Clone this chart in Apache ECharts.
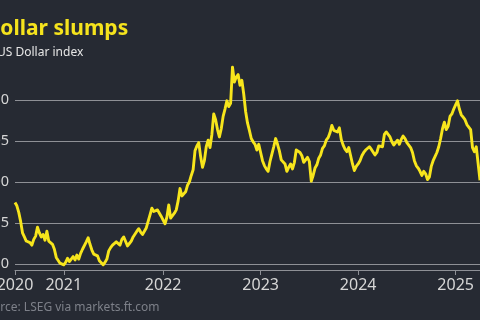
<!DOCTYPE html>
<html>
<head>
<meta charset="utf-8">
<script src="https://cdn.jsdelivr.net/npm/echarts@6/dist/echarts.min.js"></script>
<style>
html,body{margin:0;padding:0;background:#262a33;}
#c{width:480px;height:320px;}
</style>
</head>
<body>
<div id="c"></div>
<script>
// Weekly US Dollar index readings (Fridays), starting 2020-07-03
const startDate = '2020-07-03';
const values2020 = [97.5, 97.1, 96.3, 95.2, 93.8, 93.3, 92.8, 93.0, 92.6, 92.3, 93.0, 93.4, 94.5, 93.8, 93.3, 93.6, 92.9, 94.0, 92.8, 93.0, 92.4, 91.8, 90.8, 90.9, 90.1, 89.9];
const values2021 = [89.9, 90.2, 90.7, 90.3, 90.5, 90.9, 90.5, 91.1, 90.6, 91.3, 91.8, 91.9, 92.7, 93.2, 92.4, 91.7, 91.2, 91.4, 91.0, 90.4, 90.2, 89.9, 90.2, 90.6, 91.6, 92.0, 92.3, 92.2, 92.7, 92.9, 92.3, 93.0, 93.3, 93.1, 92.2, 92.5, 92.8, 93.3, 93.4, 94.0, 94.3, 93.9, 93.6, 94.0, 94.4, 95.2, 96.0, 96.8, 96.4, 96.2, 96.6, 96.2, 95.8];
const values2022 = [95.6, 94.9, 95.7, 97.2, 95.6, 95.9, 96.2, 96.6, 97.7, 99.2, 98.3, 98.2, 98.8, 99.6, 100.0, 100.8, 101.5, 103.8, 104.4, 104.8, 103.1, 101.8, 102.6, 104.3, 105.1, 104.2, 105.8, 108.3, 107.6, 106.4, 105.5, 106.5, 108.0, 108.9, 109.9, 109.2, 109.6, 114.0, 112.2, 112.8, 113.1, 111.8, 112.4, 110.7, 108.6, 107.2, 106.3, 105.3, 104.9, 104.6, 103.9, 104.6];
const values2023 = [103.6, 102.6, 102.0, 101.6, 101.3, 102.5, 103.4, 104.3, 105.3, 104.6, 103.8, 102.7, 102.9, 102.2, 101.3, 101.8, 102.2, 101.6, 102.4, 103.9, 104.1, 103.6, 103.2, 102.4, 102.6, 103.0, 102.5, 100.1, 100.8, 101.7, 102.1, 102.9, 103.3, 104.1, 104.4, 105.1, 105.4, 106.0, 106.9, 106.3, 106.4, 106.1, 106.6, 105.2, 104.5, 104.0, 103.7, 104.2, 103.2, 102.2, 101.4, 101.9];
const values2024 = [102.2, 102.6, 103.2, 103.6, 103.9, 104.1, 104.3, 104.0, 103.8, 103.3, 103.6, 104.4, 104.6, 104.3, 105.8, 106.1, 105.9, 105.5, 104.9, 104.5, 104.8, 105.1, 104.6, 105.2, 105.6, 105.3, 104.8, 104.5, 104.2, 103.6, 102.6, 102.0, 101.7, 101.3, 100.8, 101.3, 101.0, 100.3, 100.6, 101.9, 102.6, 103.1, 103.6, 104.3, 105.3, 106.5, 107.3, 106.4, 106.8, 108.0, 108.3, 108.9];
const values2025 = [109.4, 109.9, 108.9, 108.2, 107.9, 107.6, 107.0, 106.8, 106.4, 104.2, 103.7, 104.3, 104.1, 100.2];
const yTicks = [90, 95, 100, 105, 110];

const values = [].concat(values2020, values2021, values2022, values2023, values2024, values2025);
const dates = [];
{
  const t0 = Date.parse(startDate + 'T00:00:00Z');
  for (let i = 0; i < values.length; i++) {
    dates.push(new Date(t0 + i * 7 * 86400000).toISOString().slice(0, 10));
  }
}
function isYearMark(idx, val) {
  return idx === 0 || (val.slice(5, 7) === '01' && parseInt(val.slice(8, 10), 10) <= 7);
}

const chart = echarts.init(document.getElementById('c'), null, {renderer: 'canvas'});
chart.setOption({
  backgroundColor: '#262a33',
  animation: false,
  grid: {left: 15, right: 0, top: 59, bottom: 56, containLabel: false, outerBoundsMode: 'none'},
  graphic: [
    {type: 'text', x: -15, y: 29, style: {text: 'Dollar slumps', fill: '#f5e31d', font: 'bold 21px "Noto Sans"', verticalAlign: 'middle'}},
    {type: 'text', x: -3, y: 53, style: {text: 'US Dollar index', fill: '#e6e6e6', font: '12px "Noto Sans"', verticalAlign: 'middle'}},
    {type: 'text', x: -21, y: 308, style: {text: 'Source: LSEG via markets.ft.com', fill: '#7d8089', font: '12px "Noto Sans"', verticalAlign: 'middle'}}
  ],
  xAxis: {
    type: 'category',
    data: dates,
    boundaryGap: false,
    offset: 6,
    axisLine: {lineStyle: {color: '#8e9096', width: 1}},
    axisTick: {show: true, length: 5, interval: isYearMark, lineStyle: {color: '#8e9096'}},
    axisLabel: {
      interval: isYearMark,
      formatter: v => v.slice(0, 4),
      color: '#d6d6d6',
      fontSize: 16,
      fontFamily: 'Noto Sans',
      margin: 7,
      showMinLabel: true,
      hideOverlap: false
    },
    splitLine: {show: false}
  },
  yAxis: {
    type: 'value',
    min: yTicks[0],
    max: 115,
    interval: 5,
    axisLine: {show: false},
    axisTick: {show: false},
    axisLabel: {color: '#d6d6d6', fontSize: 14.5, fontFamily: 'Noto Sans', margin: 6, showMaxLabel: false},
    splitLine: {show: true, showMaxLine: false, lineStyle: {color: '#8e9096', width: 1.2}}
  },
  series: [{
    type: 'line',
    data: values,
    showSymbol: false,
    symbol: 'none',
    lineStyle: {color: '#f7e51c', width: 2.9, join: 'round'},
    clip: false
  }]
});
</script>
</body>
</html>
